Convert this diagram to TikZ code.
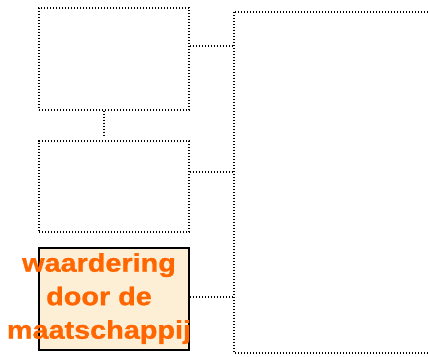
\documentclass[tikz,border=0pt]{standalone}
\usepackage{fontspec}
\setmainfont{Liberation Sans}
\newfontfamily\widefont[FakeStretch=1.13,BoldFeatures={FakeBold=1}]{Liberation Sans}
\begin{document}
\begin{tikzpicture}[x=1pt,y=-1pt,
  dotbox/.style={draw=black,line width=1.3pt,dash pattern=on 1.3pt off 1.7pt},
  dotline/.style={draw=black,line width=1.3pt,dash pattern=on 1.3pt off 1.7pt},
  solidbox/.style={draw=black,line width=1.6pt,fill={rgb,255:red,253;green,238;blue,214}},
  lbl/.style={text={rgb,255:red,255;green,102;blue,0},font=\widefont\bfseries\fontsize{25.5}{33.5}\selectfont,align=center,inner sep=0pt}]
\useasboundingbox (0,0) rectangle (428,356);
\begin{scope}
\clip (0,0) rectangle (428,356);
\draw[dotbox] (234,12) rectangle (440,353);
\coordinate (rl1) at (234,46);
\coordinate (rl2) at (234,172);
\coordinate (rl3) at (234,297);
\node[dotbox,minimum width=150pt,minimum height=102pt,inner sep=0pt] (b1) at (114,59) {};
\node[dotbox,minimum width=150pt,minimum height=91pt,inner sep=0pt] (b2) at (114,186.5) {};
\node[solidbox,minimum width=150pt,minimum height=102pt,inner sep=0pt] (b3) at (114,299) {};
\node[lbl,anchor=north] (t) at (99,253) {waardering\\door de\\maatschappij};
\draw[dotline] (b1.south -| 104,0) -- (104,136);
\draw[dotline] (b1.east |- rl1) -- (rl1);
\draw[dotline] (b2.east |- rl2) -- (rl2);
\draw[dotline] (b3.east |- rl3) -- (rl3);
\end{scope}
\end{tikzpicture}
\end{document}
